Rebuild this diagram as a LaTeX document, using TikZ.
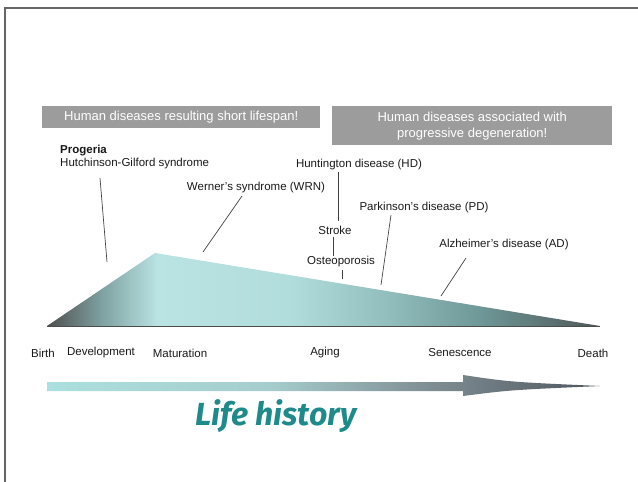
\documentclass[tikz,border=0pt]{standalone}
\usepackage{fontspec}
\setmainfont{Liberation Sans}
\newfontfamily\lifefont{Fira Sans}
\definecolor{boxgray}{HTML}{9C9C9C}
\definecolor{lifeteal}{HTML}{1E8A8A}
\definecolor{ta}{HTML}{4E4E4E}
\definecolor{tb}{HTML}{7FA2A2}
\definecolor{tc}{HTML}{BAE3E3}
\definecolor{td}{HTML}{B2DDDD}
\definecolor{te}{HTML}{92BDBD}
\definecolor{tf}{HTML}{6F9898}
\definecolor{tg}{HTML}{4E5656}
\definecolor{aa}{HTML}{ACDFDF}
\definecolor{ab}{HTML}{A6CDCD}
\definecolor{ac}{HTML}{7E8C92}
\definecolor{ad}{HTML}{4E565E}
\pgfdeclarehorizontalshading{trishade}{100bp}{color(0bp)=(ta); color(25bp)=(ta); color(30bp)=(tb); color(35bp)=(tc); color(47bp)=(td); color(56bp)=(te); color(64bp)=(tf); color(75bp)=(tg); color(100bp)=(tg)}
\pgfdeclarehorizontalshading{arrowshade}{100bp}{color(0bp)=(aa); color(25bp)=(aa); color(45bp)=(ab); color(60bp)=(ac); color(75bp)=(ad); color(100bp)=(ad)}
\tikzset{
  lbl/.style={font=\fontsize{11.5}{13}\selectfont, inner sep=0pt, text=black!90},
  hdr/.style={fill=boxgray, text=white, font=\fontsize{13}{16}\selectfont, align=center, inner sep=0pt},
  leader/.style={draw=black!75, line width=0.7pt},
}
\begin{document}
\begin{tikzpicture}[x=1pt,y=-1pt]
\useasboundingbox (0,0) rectangle (638,482);
% frame
\draw[black!60, line width=1.5pt] (5,482) -- (5,8) -- (638,8);
% header boxes
\node[hdr, minimum width=278, minimum height=22, anchor=north west] (hleft) at (42,106) {Human diseases resulting short lifespan!};
\node[hdr, minimum width=280, minimum height=39, anchor=north west] (hright) at (332,106) {Human diseases associated with\\progressive degeneration!};
% triangle
\coordinate (tl) at (47,326);
\coordinate (tp) at (155,253);
\coordinate (tr) at (600,326);
\shade[shading=trishade] (tl) -- (tp) -- (tr) -- cycle;
\draw[black!70, line width=0.8pt] (tl) -- (tr);
% labels
\node[lbl, anchor=west, align=left] (prog) at (60,157) {\textbf{Progeria}\\Hutchinson-Gilford syndrome};
\node[lbl] (wrn) at (256,188) {Werner's syndrome (WRN)};
\node[lbl] (hd) at (359,165) {Huntington disease (HD)};
\node[lbl] (stroke) at (335,230) {Stroke};
\node[lbl] (osteo) at (341,262) {Osteoporosis};
\node[lbl] (pd) at (424,208) {Parkinson's disease (PD)};
\node[lbl] (ad) at (504,245) {Alzheimer's disease (AD)};
% leader endpoints
\coordinate (p1) at (100,178); \coordinate (p2) at (107,262);
\coordinate (w1) at (242,196); \coordinate (w2) at (203,252);
\coordinate (h1) at (338,172); \coordinate (h2) at (338,221);
\coordinate (s1) at (333,237); \coordinate (s2) at (333,256);
\coordinate (o1) at (342,270); \coordinate (o2) at (342,279);
\coordinate (d1) at (391,215); \coordinate (d2) at (381,285);
\coordinate (a1) at (466,258); \coordinate (a2) at (441,296);
\draw[leader] (p1) -- (p2);
\draw[leader] (w1) -- (w2);
\draw[leader] (h1) -- (h2);
\draw[leader] (s1) -- (s2);
\draw[leader] (o1) -- (o2);
\draw[leader] (d1) -- (d2);
\draw[leader] (a1) -- (a2);
% stage labels
\node[lbl] (birth) at (43,353) {Birth};
\node[lbl] (dev) at (101,353) {Development};
\node[lbl] (mat) at (180,353) {Maturation};
\node[lbl] (aging) at (325,353) {Aging};
\node[lbl] (sen) at (460,353) {Senescence};
\node[lbl] (death) at (593,353) {Death};
% life history arrow
\coordinate (ls) at (47,386);
\coordinate (le) at (600,386);
\shade[shading=arrowshade] (47,382) -- (463,382) -- (463,375) .. controls (510,382) .. (le) .. controls (510,390) .. (463,396) -- (463,391) -- (47,391) -- cycle;
\node[font=\lifefont\fontsize{32}{36}\selectfont\bfseries\itshape, text=lifeteal, inner sep=0pt] (life) at (276,416) {Life history};
\end{tikzpicture}
\end{document}
